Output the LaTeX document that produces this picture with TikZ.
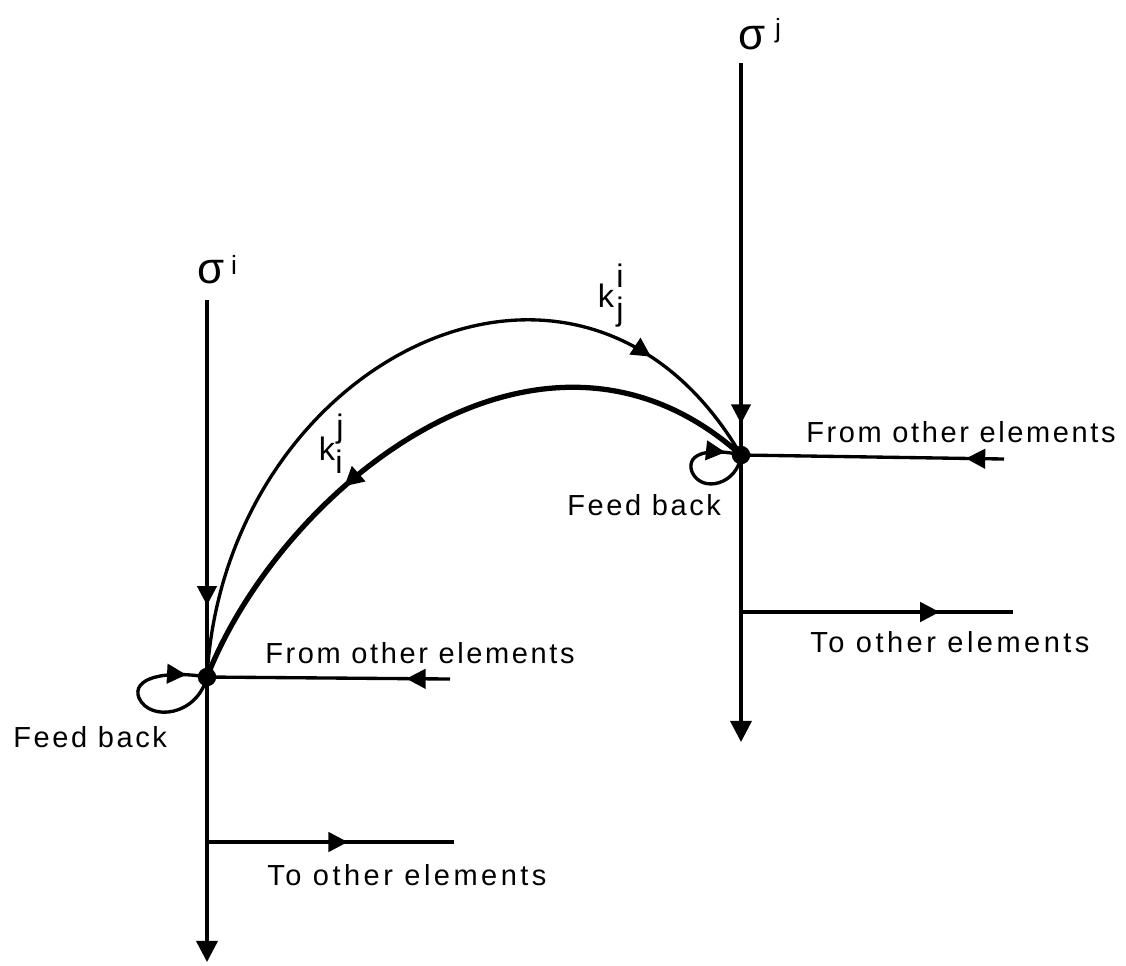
\documentclass[tikz,border=0pt]{standalone}
\usepackage{fontspec}
\setmainfont{Liberation Sans}[LetterSpace=9]
\newfontfamily\sigfont{Liberation Sans}
\usetikzlibrary{arrows.meta,decorations.markings}
\tikzset{
  ln/.style={line width=1.9pt},
  thickln/.style={line width=3pt},
  dot/.style={circle,fill=black,inner sep=0pt,minimum size=0.37cm},
  lbl/.style={anchor=base west,inner sep=0pt,font=\fontsize{16.5}{18}\selectfont},
  widelbl/.style={lbl,font=\fontsize{16.5}{18}\selectfont\addfontfeature{LetterSpace=12}},
  sig/.style={inner sep=0pt,font=\sigfont\fontsize{25}{27}\selectfont},
  sup/.style={inner sep=0pt,font=\sigfont\fontsize{15}{17}\selectfont},
  klbl/.style={inner sep=0pt,font=\sigfont\fontsize{18.5}{20}\selectfont},
  midarr/.style={postaction={decorate},decoration={markings,
     mark=at position #1 with {\arrow{Triangle[length=11pt,width=11pt]}}}},
  endarr/.style={-{Triangle[length=12pt,width=12pt]}}
}
\begin{document}
\begin{tikzpicture}[x=0.02cm,y=-0.02cm]
\useasboundingbox (0,0) rectangle (1126,965);
% nodes
\node[dot] (ni) at (207,677) {};
\node[dot] (nj) at (741,455) {};
\coordinate (ti) at (207,300);
\coordinate (bi) at (207,962);
\coordinate (tj) at (741,63);
\coordinate (bj) at (741,742);
\coordinate (fi) at (450,679);
\coordinate (fj) at (1004,459);
\coordinate (oi0) at (207,842);
\coordinate (oi1) at (454,842);
\coordinate (oj0) at (741,612);
\coordinate (oj1) at (1013,612);
% vertical lines
\draw[ln,midarr=0.81] (ti) -- (ni.center);
\draw[ln,endarr] (ni.center) -- (bi);
\draw[ln,midarr=0.92] (tj) -- (nj.center);
\draw[ln,endarr] (nj.center) -- (bj);
% from other elements
\draw[ln,midarr=0.18] (fi) -- (ni.center);
\draw[ln,midarr=0.145] (fj) -- (nj.center);
% to other elements
\draw[ln,midarr=0.57] (oi0) -- (oi1);
\draw[ln,midarr=0.73] (oj0) -- (oj1);
% curves
\draw[ln,midarr=0.83] (ni.center) .. controls (225,360) and (580,180) .. (nj.center);
\draw[thickln,midarr=0.65] (nj.center) .. controls (540,275) and (280,490) .. (ni.center);
% feedback loops
\draw[ln,midarr=0.88] (ni.center) .. controls (197,716) and (150,722) .. (139,698)
   .. controls (131,678) and (165,670) .. (ni.center);
\draw[ln,midarr=0.88] (nj.center) .. controls (738,484) and (702,494) .. (692,472)
   .. controls (685,452) and (712,448) .. (nj.center);
% labels
\node[sig] (si) at (211,272) {σ};
\node[sup] (sii) at (234,265) {i};
\node[sig] (sj) at (752,38) {σ};
\node[sup] (sjj) at (778,31) {j};
\node[klbl] (kj) at (606,296) {k};
\node[klbl] (kji) at (620,276) {i};
\node[klbl] (kjj) at (620,312) {j};
\node[klbl] (ki) at (327,449) {k};
\node[klbl] (kij) at (340,429) {j};
\node[klbl] (kii) at (339,462) {i};
\node[lbl] (fromi) at (265,663) {From other elements};
\node[widelbl] (toi) at (267,885) {To other elements};
\node[lbl] (fbi) at (13,747) {Feed back};
\node[lbl] (fromj) at (806,442) {From other elements};
\node[widelbl] (toj) at (810,652) {To other elements};
\node[lbl] (fbj) at (567,515) {Feed back};
\end{tikzpicture}
\end{document}
